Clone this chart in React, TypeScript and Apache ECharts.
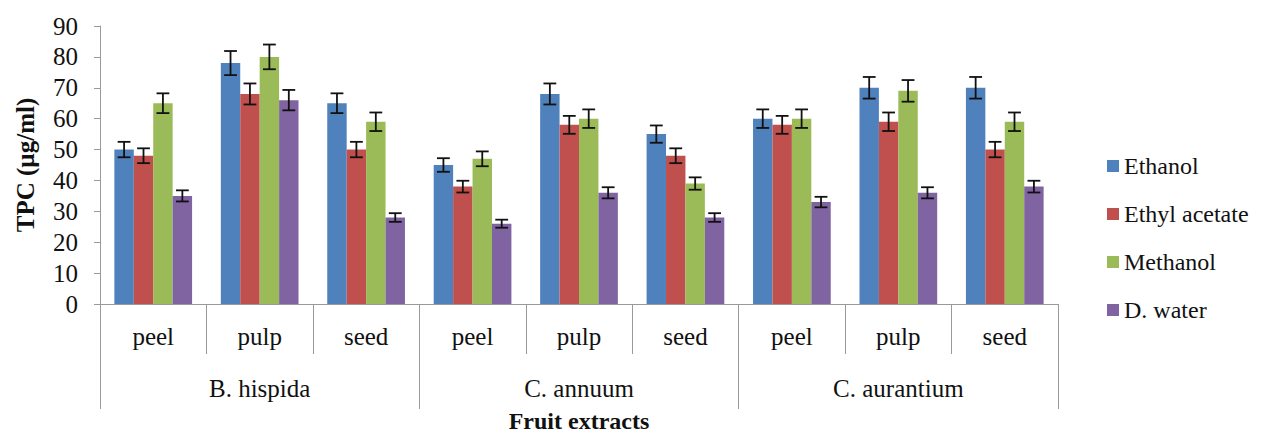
import React, { useEffect, useRef } from "react";
import * as echarts from "echarts";

const parts = ["peel", "pulp", "seed", "peel", "pulp", "seed", "peel", "pulp", "seed"];
const fruits = ["B. hispida", "C. annuum", "C. aurantium"];
const seriesNames = ["Ethanol", "Ethyl acetate", "Methanol", "D. water"];
const colors = ["#4F81BD", "#C0504D", "#9BBB59", "#8064A2"];

const ethanol = [50, 78, 65, 45, 68, 55, 60, 70, 70];
const ethylAcetate = [48, 68, 50, 38, 58, 48, 58, 59, 50];
const methanol = [65, 80, 59, 47, 60, 39, 60, 69, 59];
const dWater = [35, 66, 28, 26, 36, 28, 33, 36, 38];

const ethanolErr = [2.5, 3.9, 3.2, 2.2, 3.4, 2.8, 3.0, 3.5, 3.5];
const ethylAcetateErr = [2.4, 3.4, 2.5, 1.9, 2.9, 2.4, 2.9, 3.0, 2.5];
const methanolErr = [3.2, 4.0, 3.0, 2.4, 3.0, 2.0, 3.0, 3.5, 3.0];
const dWaterErr = [1.8, 3.3, 1.4, 1.3, 1.8, 1.4, 1.7, 1.8, 1.9];

const values = [ethanol, ethylAcetate, methanol, dWater];
const errors = [ethanolErr, ethylAcetateErr, methanolErr, dWaterErr];

const FONT = "Liberation Serif";
const CAT_GAP = 0.27;
const AXIS_GRAY = "#9a9a9a";

export default function App() {
  const ref = useRef<HTMLDivElement>(null);
  useEffect(() => {
    if (!ref.current) return;
    const chart = echarts.init(ref.current, null, { renderer: "svg" });
    const barSeries = values.map((v, i) => ({
      name: seriesNames[i],
      type: "bar",
      data: v,
      barGap: "0%",
      barCategoryGap: CAT_GAP * 100 + "%",
      itemStyle: { color: colors[i] },
      xAxisIndex: 0,
      yAxisIndex: 0,
    }));
    const errSeries = values.map((v, i) => ({
      name: "err-" + seriesNames[i],
      type: "custom",
      xAxisIndex: 0,
      yAxisIndex: 0,
      z: 10,
      data: v.map((val, j) => [j, val - errors[i][j], val + errors[i][j]]),
      renderItem: (params: any, api: any) => {
        const idx = api.value(0);
        const lo = api.coord([idx, api.value(1)]);
        const hi = api.coord([idx, api.value(2)]);
        const band = api.size([1, 0])[0];
        const groupW = band * (1 - CAT_GAP);
        const bw = groupW / 4;
        const x = lo[0] - groupW / 2 + bw * (i + 0.5);
        const cap = bw * 0.33;
        const style = { stroke: "#111", lineWidth: 1.8 };
        return {
          type: "group",
          children: [
            { type: "line", shape: { x1: x, y1: lo[1], x2: x, y2: hi[1] }, style },
            { type: "line", shape: { x1: x - cap, y1: lo[1], x2: x + cap, y2: lo[1] }, style },
            { type: "line", shape: { x1: x - cap, y1: hi[1], x2: x + cap, y2: hi[1] }, style },
          ],
        };
      },
    }));
    chart.setOption({
      animation: false,
      backgroundColor: "#fff",
      textStyle: { fontFamily: FONT },
      grid: {
        left: 100,
        right: 213,
        top: 26,
        bottom: 131,
        containLabel: false,
        outerBoundsMode: "none",
      },
      legend: {
        data: seriesNames,
        orient: "vertical",
        left: 1102,
        top: 149,
        itemWidth: 12,
        itemHeight: 12,
        itemGap: 24,
        icon: "rect",
        textStyle: { fontFamily: FONT, fontSize: 24, color: "#111" },
      },
      xAxis: [
        {
          type: "category",
          data: parts,
          position: "bottom",
          axisLine: { show: true, lineStyle: { color: AXIS_GRAY, width: 1 } },
          axisTick: { show: true, interval: 0, length: 50, lineStyle: { color: AXIS_GRAY } },
          axisLabel: { interval: 0, fontFamily: FONT, fontSize: 25, color: "#111", margin: 20 },
        },
        {
          type: "category",
          data: fruits,
          position: "bottom",
          axisLine: { show: false },
          axisTick: { show: true, interval: 0, length: 105, lineStyle: { color: AXIS_GRAY } },
          axisLabel: { interval: 0, fontFamily: FONT, fontSize: 25, color: "#111", margin: 72 },
          name: "Fruit extracts",
          nameLocation: "middle",
          nameGap: 105,
          nameTextStyle: {
            fontFamily: FONT,
            fontSize: 24,
            lineHeight: 24,
            fontWeight: "bold",
            color: "#111",
          },
        },
      ],
      yAxis: {
        type: "value",
        min: 0,
        max: 90,
        interval: 10,
        axisLine: { show: true, lineStyle: { color: AXIS_GRAY } },
        axisTick: { show: true, length: 6, lineStyle: { color: AXIS_GRAY } },
        splitLine: { show: false },
        axisLabel: { fontFamily: FONT, fontSize: 25, color: "#111", margin: 22 },
        name: "TPC (µg/ml)",
        nameLocation: "middle",
        nameGap: 62,
        nameTextStyle: { fontFamily: FONT, fontSize: 25, fontWeight: "bold", color: "#111" },
      },
      series: [...barSeries, ...errSeries],
    });
    return () => chart.dispose();
  }, []);
  return (
    <div
      ref={ref}
      style={{ position: "fixed", left: 0, top: 0, width: 1271, height: 435 }}
    />
  );
}
